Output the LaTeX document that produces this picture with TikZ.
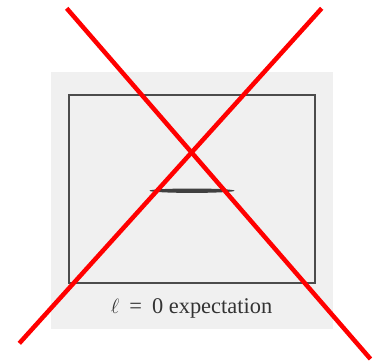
\documentclass[tikz,border=0pt]{standalone}
\usepackage{fontspec}
\setmainfont{Liberation Serif}
\begin{document}
\begin{tikzpicture}[x=1bp,y=-1bp,
  frame/.style={draw=black!70,line width=2bp},
  cross/.style={draw=red,line width=4.5bp},
  caption/.style={font=\fontsize{22.5}{24}\selectfont,text=black!80,inner sep=0pt}]
\useasboundingbox (0,0) rectangle (380,361);
\fill[white] (0,0) rectangle (380,361);
\fill[black!6] (51,72) rectangle (333,329);
\draw[frame] (69.3,94.5) rectangle (315.3,282.5);
\fill[black!75] (192,190.7) ellipse [x radius=42.5, y radius=2.2];
\node[caption] (cap) at (191.5,308) {$\ell$\hspace{0.45em}=\hspace{0.45em}0 expectation};
\coordinate (a1) at (66.7,8.3);
\coordinate (a2) at (370.5,359);
\coordinate (b1) at (321.7,8.3);
\coordinate (b2) at (19.3,343.3);
\draw[cross] (a1) -- (a2);
\draw[cross] (b1) -- (b2);
\end{tikzpicture}
\end{document}
